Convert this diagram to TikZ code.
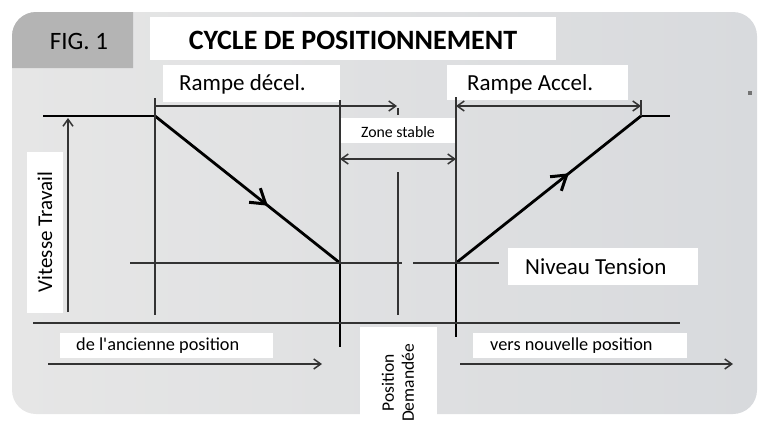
\documentclass[tikz,border=0pt]{standalone}
\usepackage{fontspec}
\setmainfont{Carlito}
\usetikzlibrary{arrows.meta,decorations.markings}

\definecolor{fondG}{HTML}{E6E6E6}
\definecolor{fondM}{HTML}{F3F3F3}
\definecolor{fondD}{HTML}{D8DADD}
\definecolor{onglet}{HTML}{B4B4B4}

\tikzset{
  boite/.style={fill=white},
  trait/.style={draw=black!80,line width=1.5pt},
  gras/.style={draw=black,line width=2.8pt},
  pointe/.style={-{Straight Barb[length=7pt,width=10pt]}},
  double pointe/.style={{Straight Barb[length=7pt,width=10pt]}-{Straight Barb[length=7pt,width=10pt]}},
  rampe/.style={gras,postaction={decorate},decoration={markings,
      mark=at position 0.61 with {\arrow{Straight Barb[length=14pt,width=18pt,line width=3pt]}}}},
  texte/.style={inner sep=0pt,font=\fontsize{23}{24}\selectfont}
}

\begin{document}
\begin{tikzpicture}[x=1pt,y=-1pt]
\useasboundingbox (0,0) rectangle (763,424);
% fond et onglet
\shade[left color=fondG,middle color=fondM,right color=fondD,rounded corners=24pt] (12,12) rectangle (757,414);
\fill[onglet] (12,68) [rounded corners=24pt]-- (12,12) [sharp corners]-- (133,12) -- (133,68) -- cycle;
\fill[black!55] (748,91) rectangle (752,95);

% cadres blancs
\fill[boite] (150,17) rectangle (556,60);
\fill[boite] (163,65) rectangle (340,102);
\fill[boite] (447,65) rectangle (628,100);
\fill[boite] (340,118) rectangle (456,143);
\fill[boite] (508,248) rectangle (698,285);
\fill[boite] (27,152) rectangle (63,313);
\fill[boite] (60,333) rectangle (273,358);
\fill[boite] (473,333) rectangle (687,358);
\fill[boite] (360,327) rectangle (437,424);

% points
\coordinate (hautG) at (43,116);
\coordinate (debDecel) at (155,116);
\coordinate (finDecel) at (340,263);
\coordinate (debAccel) at (456,263);
\coordinate (finAccel) at (641,116);
\coordinate (hautD) at (670,116);

% textes
\node[texte,font=\fontsize{25}{26}\selectfont] (fig) at (79,41) {FIG. 1};
\node[texte,font=\bfseries\fontsize{28}{29}\selectfont] (titre) at (353,40) {CYCLE DE POSITIONNEMENT};
\node[texte,anchor=west] (decel) at (179,84) {Rampe décel.};
\node[texte,anchor=west] (accel) at (467,84) {Rampe Accel.};
\node[texte,font=\fontsize{15.8}{17}\selectfont] (zone) at (398,132) {Zone stable};
\node[texte,anchor=west] (niveau) at (525,267) {Niveau Tension};
\node[texte,rotate=90,font=\fontsize{21}{22}\selectfont] (vitesse) at (45,232) {Vitesse Travail};
\node[texte,anchor=west,font=\fontsize{18.3}{19}\selectfont] (ancienne) at (76,346) {de l\textquotesingle ancienne position};
\node[texte,anchor=west,font=\fontsize{18.3}{19}\selectfont] (nouvelle) at (490,346) {vers nouvelle position};
\node[texte,rotate=90,align=center,font=\fontsize{17.5}{20}\selectfont] (demandee) at (398,383) {Position\\Demandée};

% courbe de vitesse
\draw[gras] (hautG) -- (debDecel);
\draw[rampe] (debDecel) -- (finDecel);
\draw[rampe] (debAccel) -- (finAccel);
\draw[gras] (finAccel) -- (hautD);

% reperes verticaux
\draw[trait] (155,98) -- (155,315);
\draw[trait] (340,100) -- (finDecel);
\draw[gras] (finDecel) -- (340,347);
\draw[trait] (456,97) -- (debAccel);
\draw[gras] (debAccel) -- (456,337);
\draw[trait] (398,172) -- (398,315);
\draw[trait] (398,108) -- (398,115);
\draw[trait] (641,100) -- (finAccel);

% cotes
\draw[trait,pointe] (155,106) -- (397,106);
\draw[trait,double pointe] (456,106) -- (641,106);
\draw[trait,double pointe] (340,159) -- (456,159);
\draw[trait,pointe] (68,312) -- (68,118);

% niveau et axe
\draw[trait] (130,263) -- (402,263);
\draw[trait] (413,263) -- (499,263);
\draw[trait] (33,323) -- (680,323);
\draw[trait,pointe] (48,364) -- (322,364);
\draw[trait,pointe] (460,364) -- (733,364);
\end{tikzpicture}
\end{document}
